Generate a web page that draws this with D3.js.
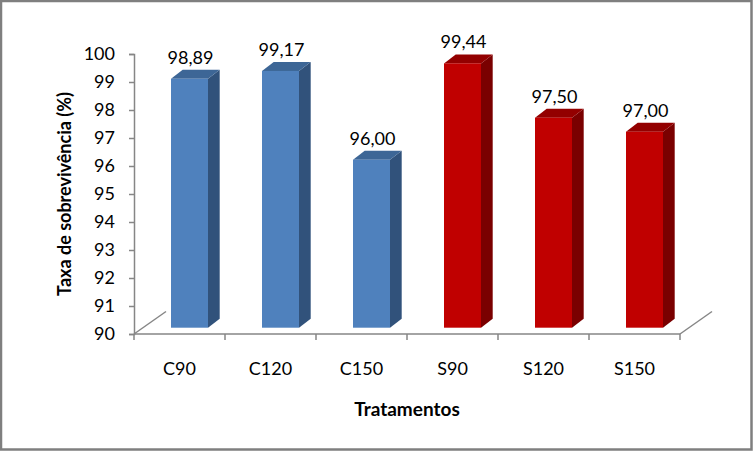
<!DOCTYPE html>
<html>
<head>
<meta charset="utf-8">
<script src="https://cdn.jsdelivr.net/npm/d3@7"></script>
<style>
  html, body { margin: 0; padding: 0; background: #fff; }
  svg { display: block; }
  text { font-family: Lato, "Open Sans", sans-serif; fill: #000; }
</style>
</head>
<body>
<svg id="chart" width="753" height="451"></svg>
<script>
// ---- data ----
const categories = ["C90", "C120", "C150", "S90", "S120", "S150"];
const values = [98.89, 99.17, 96.00, 99.44, 97.50, 97.00];
const groups = ["C", "C", "C", "S", "S", "S"];
const yTicks = [90, 91, 92, 93, 94, 95, 96, 97, 98, 99, 100];
const yTitle = "Taxa de sobrevivência (%)";
const xTitle = "Tratamentos";

// ---- styles ----
const palette = {
  C: { front: "#4F81BD", side: "#31527B", top: "#3D6696" },
  S: { front: "#C00000", side: "#7A0000", top: "#930000" }
};
const axisColor = "#868686";

const svg = d3.select("#chart");
const W = 753, H = 451;

// outer border
svg.append("rect")
  .attr("x", 1).attr("y", 1).attr("width", W - 2.5).attr("height", H - 2.5)
  .attr("fill", "#fff").attr("stroke", "#7f7f7f").attr("stroke-width", 2.5);

const x = d3.scaleBand().domain(categories).range([134, 680]);
const y = d3.scaleLinear().domain([90, 100]).range([334, 54]);

// 3D geometry
const floorDepth = { dx: 32, dy: -22.5 };
const barShift = { dx: 10, dy: -6.3 };
const barDepth = { dx: 11.7, dy: -9 };
const barW = 37;

const g = svg.append("g");

// floor outline (side diagonals)
const x0 = x.range()[0], x1 = x.range()[1], yBase = y(90);
g.append("line")
  .attr("x1", x0).attr("y1", yBase)
  .attr("x2", x0 + floorDepth.dx).attr("y2", yBase + floorDepth.dy)
  .attr("stroke", axisColor).attr("stroke-width", 1.5);
g.append("line")
  .attr("x1", x1).attr("y1", yBase)
  .attr("x2", x1 + floorDepth.dx).attr("y2", yBase + floorDepth.dy)
  .attr("stroke", axisColor).attr("stroke-width", 1.5);

// bars
const data = categories.map((c, i) => ({ c, v: values[i], grp: groups[i] }));
const bars = g.selectAll("g.bar").data(data).join("g").attr("class", "bar");

bars.each(function(d) {
  const sel = d3.select(this);
  const col = palette[d.grp];
  const fl = x(d.c) + x.bandwidth() / 2 - barW / 2 + barShift.dx;
  const fr = fl + barW;
  const ft = y(d.v) + barShift.dy;
  const fb = y(90) + barShift.dy;
  const ddx = barDepth.dx, ddy = barDepth.dy;
  // side face
  sel.append("path")
    .attr("d", `M${fr},${ft} L${fr + ddx},${ft + ddy} L${fr + ddx},${fb + ddy} L${fr},${fb} Z`)
    .attr("fill", col.side);
  // top face
  sel.append("path")
    .attr("d", `M${fl},${ft} L${fl + ddx},${ft + ddy} L${fr + ddx},${ft + ddy} L${fr},${ft} Z`)
    .attr("fill", col.top);
  // front face
  sel.append("rect")
    .attr("x", fl).attr("y", ft).attr("width", barW).attr("height", fb - ft)
    .attr("fill", col.front);
  // value label
  sel.append("text")
    .attr("x", fl + barW / 2 + 1)
    .attr("y", ft + ddy - 6)
    .attr("text-anchor", "middle")
    .attr("font-size", 18)
    .text(d3.format(".2f")(d.v).replace(".", ","));
});

// y axis
const yAxis = d3.axisLeft(y).tickValues(yTicks).tickSize(5).tickPadding(14)
  .tickFormat(d3.format("d"));
const ya = svg.append("g").attr("transform", `translate(${x0},0)`).call(yAxis);
ya.select(".domain").attr("stroke", axisColor).attr("stroke-width", 1.5);
ya.selectAll(".tick line").attr("stroke", axisColor).attr("stroke-width", 1.5);
ya.selectAll(".tick text").attr("font-size", 18).attr("fill", "#000")
  .attr("font-family", "Lato, sans-serif");

// x axis (front floor edge) with ticks at band boundaries
const boundaries = categories.map(c => x(c)).concat([x1]);
svg.append("line")
  .attr("x1", x0).attr("y1", yBase).attr("x2", x1).attr("y2", yBase)
  .attr("stroke", axisColor).attr("stroke-width", 1.5);
svg.selectAll("line.xtick").data(boundaries).join("line")
  .attr("class", "xtick")
  .attr("x1", d => d).attr("x2", d => d)
  .attr("y1", yBase).attr("y2", yBase + 6)
  .attr("stroke", axisColor).attr("stroke-width", 1.5);
svg.selectAll("text.xlab").data(categories).join("text")
  .attr("class", "xlab")
  .attr("x", d => x(d) + x.bandwidth() / 2)
  .attr("y", 375)
  .attr("text-anchor", "middle")
  .attr("font-size", 18)
  .text(d => d);

// titles
svg.append("text")
  .attr("x", 407).attr("y", 416)
  .attr("text-anchor", "middle")
  .attr("font-size", 19).attr("font-weight", "bold")
  .text(xTitle);
svg.append("text")
  .attr("transform", `translate(71,${(y(90) + y(100)) / 2}) rotate(-90)`)
  .attr("text-anchor", "middle")
  .attr("font-size", 18).attr("font-weight", "bold")
  .text(yTitle);
</script>
</body>
</html>
